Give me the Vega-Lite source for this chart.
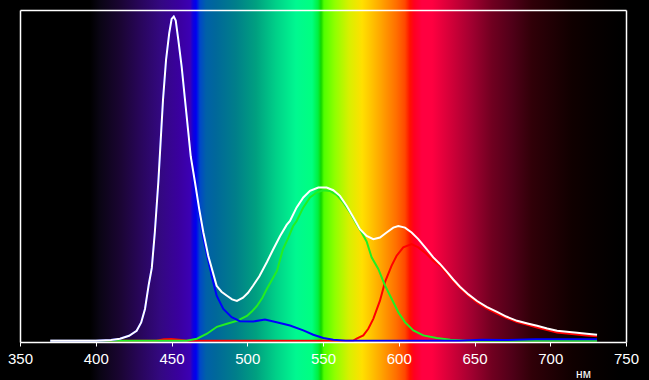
{
  "$schema": "https://vega.github.io/schema/vega-lite/v6.json",
  "width": 649,
  "height": 380,
  "autosize": {"type": "none"},
  "padding": 0,
  "background": "#000000",
  "config": {
    "font": "Liberation Sans",
    "view": {
      "stroke": null,
      "fill": {
        "gradient": "linear", "x1": 0, "y1": 0, "x2": 1, "y2": 0,
        "stops": [
          {"offset": 0, "color": "#000000"},
          {"offset": 0.1387, "color": "#000000"},
          {"offset": 0.1541, "color": "#0a0514"},
          {"offset": 0.1849, "color": "#1a0532"},
          {"offset": 0.2157, "color": "#28065a"},
          {"offset": 0.2465, "color": "#330880"},
          {"offset": 0.2773, "color": "#3a00a0"},
          {"offset": 0.2928, "color": "#3c00b4"},
          {"offset": 0.2974, "color": "#1000dc"},
          {"offset": 0.3020, "color": "#0000f0"},
          {"offset": 0.3082, "color": "#0048c8"},
          {"offset": 0.3174, "color": "#0060a8"},
          {"offset": 0.3328, "color": "#00689a"},
          {"offset": 0.3636, "color": "#007f8a"},
          {"offset": 0.3945, "color": "#00a080"},
          {"offset": 0.4253, "color": "#00d088"},
          {"offset": 0.4561, "color": "#00f890"},
          {"offset": 0.4807, "color": "#00ff80"},
          {"offset": 0.4900, "color": "#00f040"},
          {"offset": 0.4946, "color": "#10d800"},
          {"offset": 0.4992, "color": "#50ff00"},
          {"offset": 0.5162, "color": "#90ff00"},
          {"offset": 0.5378, "color": "#d8f000"},
          {"offset": 0.5578, "color": "#ffe000"},
          {"offset": 0.5701, "color": "#ffc800"},
          {"offset": 0.5855, "color": "#ffa800"},
          {"offset": 0.6102, "color": "#ff7000"},
          {"offset": 0.6240, "color": "#ff4800"},
          {"offset": 0.6317, "color": "#ff1000"},
          {"offset": 0.6379, "color": "#ff0020"},
          {"offset": 0.6502, "color": "#ff0040"},
          {"offset": 0.6656, "color": "#ff0040"},
          {"offset": 0.6965, "color": "#d00038"},
          {"offset": 0.7273, "color": "#a00030"},
          {"offset": 0.7581, "color": "#700020"},
          {"offset": 0.7889, "color": "#500018"},
          {"offset": 0.8197, "color": "#300008"},
          {"offset": 0.8505, "color": "#200004"},
          {"offset": 0.8814, "color": "#100000"},
          {"offset": 0.9122, "color": "#080000"},
          {"offset": 0.9553, "color": "#000000"},
          {"offset": 1, "color": "#000000"}
        ]
      }
    }
  },
  "data": {"values": [
      {"s":"R","nm":370,"v":0},{"s":"R","nm":440,"v":0},{"s":"R","nm":445,"v":0.4},{"s":"R","nm":450,"v":0.5},{"s":"R","nm":455,"v":0.3},{"s":"R","nm":460,"v":0},{"s":"R","nm":570,"v":0},{"s":"R","nm":572.2,"v":0.6},{"s":"R","nm":576.6,"v":1.6},{"s":"R","nm":579.9,"v":3.6},{"s":"R","nm":583.2,"v":6.6},{"s":"R","nm":587.6,"v":12.1},{"s":"R","nm":590.9,"v":17.7},{"s":"R","nm":595.3,"v":22.7},{"s":"R","nm":598.6,"v":25.7},{"s":"R","nm":603,"v":28.2},{"s":"R","nm":608.5,"v":29.2},{"s":"R","nm":612.9,"v":28.2},{"s":"R","nm":618.4,"v":26.2},{"s":"R","nm":622.8,"v":24.2},{"s":"R","nm":627.2,"v":22.7},{"s":"R","nm":631.8,"v":20.3},{"s":"R","nm":636,"v":18},{"s":"R","nm":640.4,"v":15.9},{"s":"R","nm":646,"v":13.6},{"s":"R","nm":651.7,"v":11.6},{"s":"R","nm":658,"v":9.8},{"s":"R","nm":664.9,"v":8.2},{"s":"R","nm":671,"v":6.9},{"s":"R","nm":678.1,"v":5.6},{"s":"R","nm":685,"v":4.8},{"s":"R","nm":691.3,"v":4.0},{"s":"R","nm":698,"v":3.2},{"s":"R","nm":704.5,"v":2.5},{"s":"R","nm":711,"v":2.2},{"s":"R","nm":717.7,"v":1.9},{"s":"R","nm":724,"v":1.6},{"s":"R","nm":730.9,"v":1.3},
      {"s":"G","nm":370,"v":0},{"s":"G","nm":460,"v":0},{"s":"G","nm":466.8,"v":0.6},{"s":"G","nm":473.4,"v":2.1},{"s":"G","nm":480,"v":4.2},{"s":"G","nm":486.6,"v":5.1},{"s":"G","nm":493.2,"v":6.0},{"s":"G","nm":499.8,"v":7.5},{"s":"G","nm":503,"v":8.8},{"s":"G","nm":506.4,"v":10.5},{"s":"G","nm":510,"v":13},{"s":"G","nm":513,"v":15.7},{"s":"G","nm":519.6,"v":21.1},{"s":"G","nm":523.6,"v":27.7},{"s":"G","nm":527,"v":31},{"s":"G","nm":530.2,"v":34.6},{"s":"G","nm":532.6,"v":36.2},{"s":"G","nm":537,"v":40.3},{"s":"G","nm":541.4,"v":43.3},{"s":"G","nm":545.8,"v":44.8},{"s":"G","nm":550.2,"v":45.5},{"s":"G","nm":554.6,"v":45.3},{"s":"G","nm":559,"v":44.1},{"s":"G","nm":563.4,"v":41.8},{"s":"G","nm":567.8,"v":38.8},{"s":"G","nm":572.2,"v":35.2},{"s":"G","nm":575.5,"v":32.7},{"s":"G","nm":578.8,"v":30.0},{"s":"G","nm":582.1,"v":25.2},{"s":"G","nm":586.5,"v":21.7},{"s":"G","nm":590.9,"v":16.7},{"s":"G","nm":595.3,"v":12.7},{"s":"G","nm":599.7,"v":8.6},{"s":"G","nm":604.1,"v":5.6},{"s":"G","nm":609.6,"v":3.1},{"s":"G","nm":616.2,"v":1.6},{"s":"G","nm":625,"v":0.8},{"s":"G","nm":634,"v":0.3},{"s":"G","nm":645,"v":0},{"s":"G","nm":730.9,"v":0},
      {"s":"B","nm":370,"v":0},{"s":"B","nm":400,"v":0},{"s":"B","nm":410,"v":0.2},{"s":"B","nm":416,"v":0.6},{"s":"B","nm":422,"v":1.5},{"s":"B","nm":427,"v":3.0},{"s":"B","nm":430,"v":5.5},{"s":"B","nm":432.5,"v":9.6},{"s":"B","nm":435,"v":17},{"s":"B","nm":437,"v":22},{"s":"B","nm":439,"v":32.8},{"s":"B","nm":441.3,"v":47.9},{"s":"B","nm":442.9,"v":60.8},{"s":"B","nm":444.4,"v":72.9},{"s":"B","nm":446.4,"v":84.9},{"s":"B","nm":448.5,"v":93},{"s":"B","nm":450.1,"v":97.3},{"s":"B","nm":451.5,"v":98},{"s":"B","nm":452.8,"v":96.8},{"s":"B","nm":454.5,"v":91},{"s":"B","nm":456.7,"v":82.9},{"s":"B","nm":458.9,"v":72.9},{"s":"B","nm":461.1,"v":63},{"s":"B","nm":462.7,"v":55.7},{"s":"B","nm":465.5,"v":47.5},{"s":"B","nm":468.3,"v":38.5},{"s":"B","nm":471,"v":31},{"s":"B","nm":473.6,"v":25.7},{"s":"B","nm":476.5,"v":19.7},{"s":"B","nm":479.8,"v":13.6},{"s":"B","nm":484.2,"v":9.6},{"s":"B","nm":489.7,"v":7.1},{"s":"B","nm":495.2,"v":5.9},{"s":"B","nm":504,"v":5.8},{"s":"B","nm":511.7,"v":6.4},{"s":"B","nm":519.4,"v":5.6},{"s":"B","nm":528.2,"v":4.6},{"s":"B","nm":537,"v":3.1},{"s":"B","nm":543.6,"v":1.8},{"s":"B","nm":550.2,"v":0.8},{"s":"B","nm":556.8,"v":0.3},{"s":"B","nm":565,"v":0},{"s":"B","nm":640,"v":0},{"s":"B","nm":655,"v":0.3},{"s":"B","nm":670,"v":0.2},{"s":"B","nm":690,"v":0.4},{"s":"B","nm":710,"v":0.4},{"s":"B","nm":730.9,"v":0.4},
      {"s":"total","nm":370,"v":0},{"s":"total","nm":400,"v":0},{"s":"total","nm":410,"v":0.2},{"s":"total","nm":416,"v":0.6},{"s":"total","nm":422,"v":1.5},{"s":"total","nm":427,"v":3.0},{"s":"total","nm":430,"v":5.5},{"s":"total","nm":432.5,"v":9.6},{"s":"total","nm":435,"v":17},{"s":"total","nm":437,"v":22},{"s":"total","nm":439,"v":32.8},{"s":"total","nm":441.3,"v":47.9},{"s":"total","nm":442.9,"v":60.8},{"s":"total","nm":444.4,"v":72.9},{"s":"total","nm":446.4,"v":84.9},{"s":"total","nm":448.5,"v":93},{"s":"total","nm":450.1,"v":97.3},{"s":"total","nm":451.5,"v":98},{"s":"total","nm":452.8,"v":96.8},{"s":"total","nm":454.5,"v":91},{"s":"total","nm":456.7,"v":82.9},{"s":"total","nm":458.9,"v":72.9},{"s":"total","nm":461.1,"v":63.0},{"s":"total","nm":462.7,"v":55.7},{"s":"total","nm":465.5,"v":47.9},{"s":"total","nm":468.3,"v":39.8},{"s":"total","nm":471.0,"v":32.8},{"s":"total","nm":474.3,"v":25.6},{"s":"total","nm":479.8,"v":16.6},{"s":"total","nm":483,"v":14.8},{"s":"total","nm":486.6,"v":13.6},{"s":"total","nm":490,"v":12.5},{"s":"total","nm":493.2,"v":12.0},{"s":"total","nm":497.2,"v":13.0},{"s":"total","nm":500.5,"v":14.5},{"s":"total","nm":503.8,"v":16.6},{"s":"total","nm":508,"v":19.5},{"s":"total","nm":513,"v":23.8},{"s":"total","nm":517,"v":27.5},{"s":"total","nm":521.6,"v":31.6},{"s":"total","nm":526,"v":35},{"s":"total","nm":528.2,"v":36.2},{"s":"total","nm":532.6,"v":40.3},{"s":"total","nm":537,"v":43.3},{"s":"total","nm":541.4,"v":45.3},{"s":"total","nm":546.9,"v":46.3},{"s":"total","nm":552.4,"v":46.3},{"s":"total","nm":556.8,"v":45.5},{"s":"total","nm":561.2,"v":43.8},{"s":"total","nm":565.6,"v":40.8},{"s":"total","nm":570,"v":37.3},{"s":"total","nm":574.4,"v":33.7},{"s":"total","nm":578.8,"v":31.7},{"s":"total","nm":583.2,"v":30.7},{"s":"total","nm":587.6,"v":31.2},{"s":"total","nm":592,"v":32.7},{"s":"total","nm":596.4,"v":34.2},{"s":"total","nm":599.7,"v":34.7},{"s":"total","nm":604.1,"v":34.2},{"s":"total","nm":608.5,"v":32.7},{"s":"total","nm":612.9,"v":30.7},{"s":"total","nm":618.4,"v":27.7},{"s":"total","nm":622.8,"v":25.2},{"s":"total","nm":627.2,"v":23.2},{"s":"total","nm":631.8,"v":20.8},{"s":"total","nm":636,"v":18.5},{"s":"total","nm":640.4,"v":16.3},{"s":"total","nm":646,"v":14},{"s":"total","nm":651.7,"v":12.0},{"s":"total","nm":658,"v":10.2},{"s":"total","nm":664.9,"v":8.7},{"s":"total","nm":671,"v":7.3},{"s":"total","nm":678.1,"v":6.0},{"s":"total","nm":685,"v":5.2},{"s":"total","nm":691.3,"v":4.5},{"s":"total","nm":698,"v":3.7},{"s":"total","nm":704.5,"v":3.0},{"s":"total","nm":711,"v":2.7},{"s":"total","nm":717.7,"v":2.4},{"s":"total","nm":724,"v":2.1},{"s":"total","nm":730.9,"v":1.8}
  ]},
  "layer": [
    {
      "transform": [{"filter": "datum.s !== 'total'"}],
      "mark": {"type": "line", "strokeWidth": 2, "clip": false},
      "encoding": {
        "x": {
          "field": "nm", "type": "quantitative",
          "scale": {"domain": [350, 750], "range": [20, 626], "nice": false, "zero": false},
          "axis": {
            "orient": "bottom", "offset": -38, "zindex": 1,
            "values": [350, 400, 450, 500, 550, 600, 650, 700, 750],
            "domain": true, "domainColor": "#ffffff", "domainWidth": 1.5, "grid": false,
            "ticks": true, "tickColor": "#ffffff", "tickSize": 4, "tickWidth": 1,
            "labelColor": "#ffffff", "labelFont": "Liberation Sans", "labelFontSize": 15,
            "labelPadding": 5, "labelFlush": false, "labelOverlap": false,
            "title": "нм", "titleColor": "#ffffff", "titleFont": "Liberation Sans",
            "titleFontSize": 12, "titleFontWeight": "normal",
            "titleX": 583, "titleY": 31, "titleBaseline": "middle", "titleAlign": "center"
          }
        },
        "y": {
          "field": "v", "type": "quantitative",
          "scale": {"domain": [-0.4, 100], "range": [342, 10], "nice": false, "zero": false},
          "axis": {
            "orient": "left", "offset": -20, "zindex": 1,
            "domain": true, "domainColor": "#ffffff", "domainWidth": 1.5,
            "ticks": false, "labels": false, "grid": false, "title": null
          }
        },
        "color": {
          "field": "s", "type": "nominal",
          "scale": {"domain": ["R", "G", "B", "total"], "range": ["#ff0000", "#22ee22", "#0000ff", "#ffffff"]},
          "legend": null
        }
      }
    },
    {
      "transform": [{"filter": "datum.s === 'total'"}],
      "mark": {"type": "line", "strokeWidth": 2, "clip": false},
      "encoding": {
        "x": {
          "field": "nm", "type": "quantitative",
          "axis": {
            "orient": "top", "offset": -10, "zindex": 1,
            "domain": true, "domainColor": "#ffffff", "domainWidth": 1.5,
            "ticks": false, "labels": false, "grid": false, "title": null
          }
        },
        "y": {
          "field": "v", "type": "quantitative",
          "axis": {
            "orient": "right", "offset": -23, "zindex": 1,
            "domain": true, "domainColor": "#ffffff", "domainWidth": 1.5,
            "ticks": false, "labels": false, "grid": false, "title": null
          }
        },
        "color": {
          "field": "s", "type": "nominal",
          "legend": null
        }
      }
    }
  ]
}
